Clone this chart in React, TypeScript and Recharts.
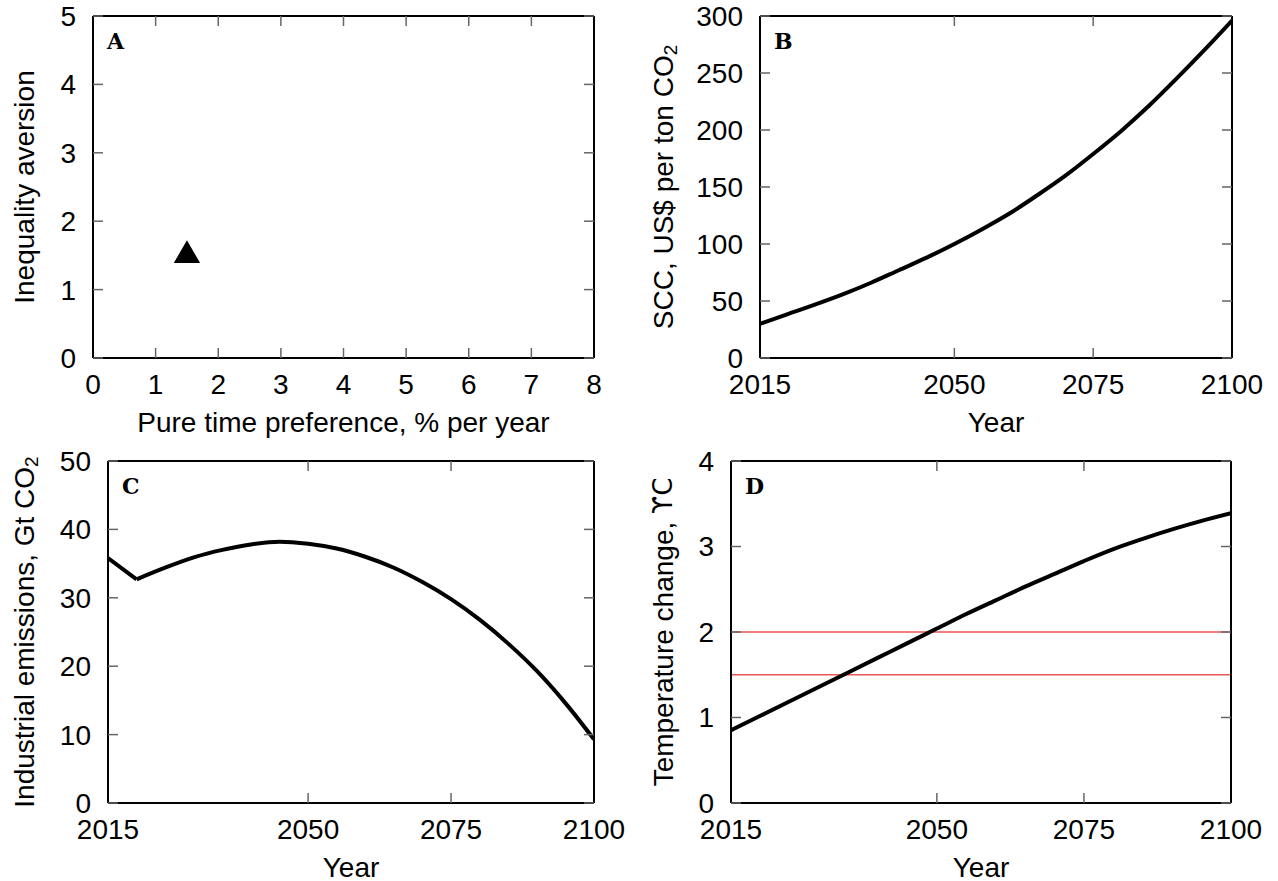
import React from "react";
import {
  LineChart,
  Line,
  ScatterChart,
  Scatter,
  XAxis,
  YAxis,
  ZAxis,
  ReferenceLine,
} from "recharts";

const FONT = "'Liberation Sans', Arial, Helvetica, sans-serif";
const LETTER_FONT = "'DejaVu Serif', 'Liberation Serif', serif";

// panel A: chosen parameters
const timePreference = [1.5];
const inequalityAversion = [1.5];
const prefTicks = [0, 1, 2, 3, 4, 5, 6, 7, 8];
const aversionTicks = [0, 1, 2, 3, 4, 5];

// panels B-D share the time axis (5-year steps)
const years = [
  2015, 2020, 2025, 2030, 2035, 2040, 2045, 2050, 2055, 2060, 2065, 2070,
  2075, 2080, 2085, 2090, 2095, 2100,
];
const yearTicks = [2015, 2050, 2075, 2100];

// B: social cost of carbon
const scc = [
  30, 38.5, 47, 56, 66, 77, 88, 100, 113, 127, 143, 160, 179, 199, 221, 245,
  270, 296,
];
const sccTicks = [0, 50, 100, 150, 200, 250, 300];

// C: industrial emissions (sharp turn in 2020)
const emissions = [
  35.8, 32.7, 34.4, 35.9, 37.0, 37.8, 38.2, 37.9, 37.2, 36.0, 34.4, 32.3,
  29.8, 26.8, 23.3, 19.3, 14.6, 9.3,
];
const emissionTicks = [0, 10, 20, 30, 40, 50];
const emissionBreakYear = 2020;

// D: temperature change
const temperature = [
  0.85, 1.02, 1.19, 1.36, 1.53, 1.7, 1.87, 2.04, 2.21, 2.37, 2.53, 2.68,
  2.83, 2.97, 3.09, 3.2, 3.3, 3.39,
];
const tempTicks = [0, 1, 2, 3, 4];
const tempTargets = [2, 1.5];

const scatterData = timePreference.map((x, i) => ({ x, y: inequalityAversion[i] }));
const sccData = years.map((year, i) => ({ year, v: scc[i] }));
const emissionData = years.map((year, i) => ({ year, v: emissions[i] }));
const emissionHead = emissionData.filter((d) => d.year <= emissionBreakYear);
const emissionTail = emissionData.filter((d) => d.year >= emissionBreakYear);
const tempData = years.map((year, i) => ({ year, v: temperature[i] }));

const axisLine = { stroke: "#000", strokeWidth: 2 };
const tickLine = { stroke: "#666", strokeWidth: 1.5 };
const tickStyle = { fill: "#000", fontSize: 28, fontFamily: FONT };
const blank = () => "";

const xTitle = (text: string) => (p: any) => {
  const { x, y, width } = p.viewBox;
  return (
    <text
      x={x + width / 2}
      y={y + 64}
      textAnchor="middle"
      dominantBaseline="central"
      fontSize={28}
      fontFamily={FONT}
      fill="#000"
    >
      {text}
    </text>
  );
};

const yTitle = (text: string, sub?: string, unit?: string) => (p: any) => {
  const { y, height } = p.viewBox;
  const cy = y + height / 2;
  return (
    <text
      x={24}
      y={cy}
      transform={`rotate(-90, 24, ${cy})`}
      textAnchor="middle"
      dominantBaseline="central"
      fontSize={28}
      fontFamily={FONT}
      fill="#000"
    >
      {text}
      {sub && (
        <tspan dy={7} fontSize={19}>
          {sub}
        </tspan>
      )}
      {unit && <tspan fontFamily="'DejaVu Sans', sans-serif" fontSize={26}>{unit}</tspan>}
    </text>
  );
};

const letter = (text: string) => (p: any) => {
  const { x, y, height } = p.viewBox;
  return (
    <text
      x={x + 14}
      y={y + height + 25}
      dominantBaseline="central"
      fontSize={22}
      fontWeight="bold"
      fontFamily={LETTER_FONT}
      fill="#000"
    >
      {text}
    </text>
  );
};

function frame(
  xKey: string,
  xDomain: number[],
  xTicks: number[],
  yDomain: number[],
  yTicks: number[],
  xLabel: string,
  yLabel: (p: any) => React.ReactNode,
  panel: string
) {
  return [
    <XAxis
      key="xb"
      type="number"
      dataKey={xKey}
      domain={xDomain}
      ticks={xTicks}
      interval={0}
      allowDataOverflow
      height={60}
      tickSize={-10}
      tickMargin={26}
      axisLine={axisLine}
      tickLine={tickLine}
      tick={tickStyle}
      label={{ content: xTitle(xLabel) }}
    />,
    <XAxis
      key="xt"
      xAxisId="top"
      orientation="top"
      type="number"
      dataKey={xKey}
      domain={xDomain}
      ticks={xTicks}
      interval={0}
      allowDataOverflow
      height={1}
      tickSize={-10}
      tickFormatter={blank}
      axisLine={axisLine}
      tickLine={tickLine}
      label={{ content: letter(panel) }}
    />,
    <YAxis
      key="yl"
      type="number"
      domain={yDomain}
      ticks={yTicks}
      interval={0}
      allowDataOverflow
      width={60}
      tickSize={-10}
      tickMargin={27}
      axisLine={axisLine}
      tickLine={tickLine}
      tick={tickStyle}
      label={{ content: yLabel }}
    />,
    <YAxis
      key="yr"
      yAxisId="right"
      orientation="right"
      type="number"
      domain={yDomain}
      ticks={yTicks}
      interval={0}
      allowDataOverflow
      width={1}
      tickSize={-10}
      tickFormatter={blank}
      axisLine={axisLine}
      tickLine={tickLine}
    />,
  ];
}

const box = (left: number, top: number): React.CSSProperties => ({
  position: "absolute",
  left,
  top,
});

const lineProps = {
  dataKey: "v",
  stroke: "#000",
  strokeWidth: 4,
  strokeLinejoin: "round" as const,
  dot: false,
  isAnimationActive: false,
};

export default function App() {
  return (
    <div
      style={{
        position: "absolute",
        left: 0,
        top: 0,
        width: 1278,
        height: 881,
        background: "#fff",
        fontFamily: FONT,
      }}
    >
      <div style={box(0, 0)}>
        <ScatterChart
          width={639}
          height={440}
          margin={{ top: 15, right: 44, bottom: 22, left: 33 }}
        >
          {frame(
            "x",
            [0, 8],
            prefTicks,
            [0, 5],
            aversionTicks,
            "Pure time preference, % per year",
            yTitle("Inequality aversion"),
            "A"
          )}
          <ZAxis range={[300, 300]} />
          <Scatter
            data={scatterData}
            dataKey="y"
            shape="triangle"
            fill="#000"
            isAnimationActive={false}
          />
        </ScatterChart>
      </div>

      <div style={box(639, 0)}>
        <LineChart
          width={639}
          height={440}
          data={sccData}
          margin={{ top: 15, right: 45, bottom: 22, left: 61 }}
        >
          {frame(
            "year",
            [2015, 2100],
            yearTicks,
            [0, 300],
            sccTicks,
            "Year",
            yTitle("SCC, US$ per ton CO", "2"),
            "B"
          )}
          <Line type="monotone" {...lineProps} />
        </LineChart>
      </div>

      <div style={box(0, 440)}>
        <LineChart
          width={639}
          height={441}
          margin={{ top: 20, right: 44, bottom: 18, left: 48 }}
        >
          {frame(
            "year",
            [2015, 2100],
            yearTicks,
            [0, 50],
            emissionTicks,
            "Year",
            yTitle("Industrial emissions, Gt CO", "2"),
            "C"
          )}
          <Line type="linear" data={emissionHead} {...lineProps} />
          <Line type="monotone" data={emissionTail} {...lineProps} />
        </LineChart>
      </div>

      <div style={box(639, 440)}>
        <LineChart
          width={639}
          height={441}
          data={tempData}
          margin={{ top: 20, right: 46, bottom: 18, left: 32 }}
        >
          {frame(
            "year",
            [2015, 2100],
            yearTicks,
            [0, 4],
            tempTicks,
            "Year",
            yTitle("Temperature change, ", undefined, "\u03D2C"),
            "D"
          )}
          {tempTargets.map((t) => (
            <ReferenceLine
              key={t}
              y={t}
              stroke="#ee5555"
              strokeWidth={1.5}
              ifOverflow="extendDomain"
            />
          ))}
          <Line type="monotone" {...lineProps} />
        </LineChart>
      </div>
    </div>
  );
}
